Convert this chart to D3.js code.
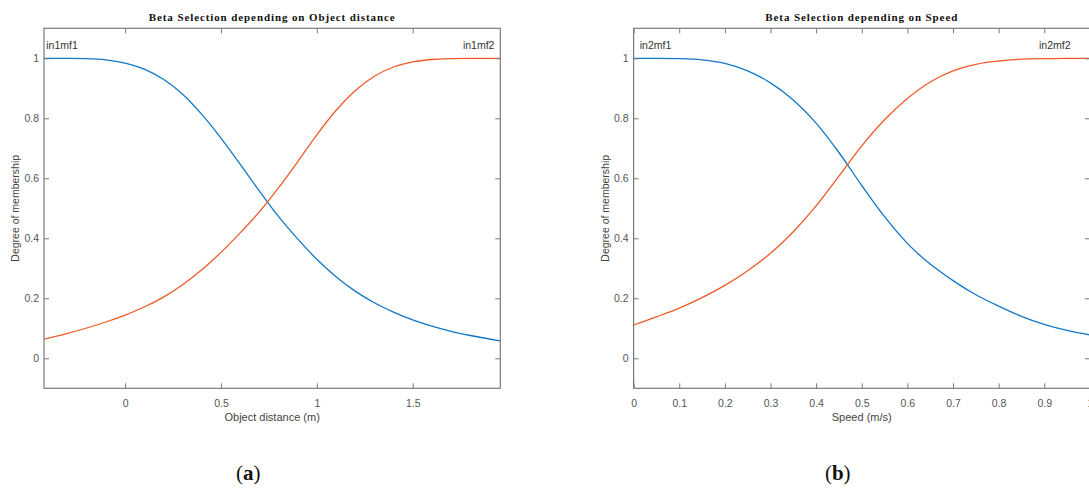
<!DOCTYPE html>
<html>
<head>
<meta charset="utf-8">
<script src="https://cdn.jsdelivr.net/npm/d3@7"></script>
<style>
  body { margin: 0; background: #fff; }
  svg { display: block; }
</style>
</head>
<body>
<svg id="fig" width="1089" height="488"></svg>
<script>
// Membership functions for the object-distance input
const distX     = [-0.423, -0.3, -0.2, -0.1, 0, 0.1, 0.2, 0.3, 0.4, 0.5, 0.6, 0.7, 0.8, 0.9, 1.0, 1.1, 1.2, 1.3, 1.4, 1.5, 1.6, 1.7, 1.8, 1.957];
const distLowY  = [1.0, 1.0, 0.999, 0.995, 0.984, 0.964, 0.930, 0.880, 0.813, 0.734, 0.647, 0.558, 0.473, 0.398, 0.330, 0.272, 0.224, 0.185, 0.154, 0.128, 0.107, 0.090, 0.076, 0.058];
const distHighY = [0.064, 0.083, 0.101, 0.121, 0.144, 0.171, 0.204, 0.245, 0.295, 0.353, 0.418, 0.488, 0.568, 0.655, 0.745, 0.826, 0.892, 0.940, 0.971, 0.988, 0.996, 0.999, 1.0, 1.0];

// Membership functions for the speed input
const speedX     = [0, 0.05, 0.1, 0.15, 0.2, 0.25, 0.3, 0.35, 0.4, 0.45, 0.5, 0.55, 0.6, 0.65, 0.7, 0.75, 0.8, 0.85, 0.9, 0.95, 1.0];
const speedLowY  = [1.0, 1.0, 0.999, 0.995, 0.983, 0.958, 0.918, 0.861, 0.784, 0.686, 0.576, 0.472, 0.383, 0.314, 0.259, 0.212, 0.174, 0.140, 0.113, 0.093, 0.078];
const speedHighY = [0.111, 0.138, 0.167, 0.202, 0.243, 0.292, 0.350, 0.422, 0.508, 0.607, 0.708, 0.795, 0.866, 0.921, 0.958, 0.980, 0.991, 0.997, 0.999, 1.0, 1.0];

// Axis ticks
const yTicks = [0, 0.2, 0.4, 0.6, 0.8, 1];
const distTicks = [0, 0.5, 1, 1.5];
const speedTicks = [0, 0.1, 0.2, 0.3, 0.4, 0.5, 0.6, 0.7, 0.8, 0.9, 1];

// Text
const titles = ["Beta Selection depending on Object distance", "Beta Selection depending on Speed"];
const xLabels = ["Object distance (m)", "Speed (m/s)"];
const yLabel = "Degree of membership";
const mfNames = [["in1mf1", "in1mf2"], ["in2mf1", "in2mf2"]];
const mfNameX = [[-0.329, 1.844], [0.048, 0.923]];
const panelTags = ["a", "b"];

const BLUE = "#1278c6";
const ORANGE = "#f05a28";
const AXIS = "#7a7a7a";
const TICKTXT = "#555";

const svg = d3.select("#fig");

function drawPanel(i, left, xDomain, xTicks, xs, series) {
  const top = 28.3, bottom = 388.3, width = 456.3;
  const x = d3.scaleLinear().domain(xDomain).range([left, left + width]);
  const y = d3.scaleLinear().domain([-0.1, 1.1]).range([bottom, top]);
  const g = svg.append("g");

  const clipId = "clip" + i;
  g.append("clipPath").attr("id", clipId)
    .append("rect").attr("x", left).attr("y", top)
    .attr("width", width).attr("height", bottom - top);

  const line = d3.line().x(d => x(d[0])).y(d => y(d[1])).curve(d3.curveMonotoneX);
  series.forEach(s => {
    const pts = xs.map((v, k) => [v, s.ys[k]]);
    g.append("path").datum(pts)
      .attr("clip-path", `url(#${clipId})`)
      .attr("fill", "none").attr("stroke", s.color)
      .attr("stroke-width", 1.3).attr("d", line);
  });

  const fmt = d => d3.format("~g")(d);
  const styleAxis = sel => {
    sel.select(".domain").remove();
    sel.selectAll(".tick line").attr("stroke", AXIS).attr("stroke-width", 1);
    sel.selectAll(".tick text").attr("fill", TICKTXT)
      .style("font-family", "'Liberation Sans', Arial, sans-serif").style("font-size", "10.5px");
  };

  g.append("g").attr("transform", `translate(0,${bottom})`)
    .call(d3.axisBottom(x).tickValues(xTicks).tickSize(-5).tickPadding(11).tickFormat(fmt))
    .call(styleAxis);
  g.append("g").attr("transform", `translate(0,${top})`)
    .call(d3.axisTop(x).tickValues(xTicks).tickSize(-5).tickFormat(""))
    .call(styleAxis);
  g.append("g").attr("transform", `translate(${left},0)`)
    .call(d3.axisLeft(y).tickValues(yTicks).tickSize(-5).tickPadding(5).tickFormat(fmt))
    .call(styleAxis);
  g.append("g").attr("transform", `translate(${left + width},0)`)
    .call(d3.axisRight(y).tickValues(yTicks).tickSize(-5).tickFormat(""))
    .call(styleAxis);

  g.append("rect").attr("x", left).attr("y", top)
    .attr("width", width).attr("height", bottom - top)
    .attr("fill", "none").attr("stroke", AXIS).attr("stroke-width", 1.2);

  const cx = left + width / 2;
  g.append("text").attr("x", cx).attr("y", 21).attr("text-anchor", "middle")
    .style("font-family", "'Liberation Serif', 'DejaVu Serif', serif")
    .style("font-weight", "bold").style("font-size", "11px")
    .style("letter-spacing", "0.9px").attr("fill", "#111")
    .text(titles[i]);

  g.append("text").attr("x", cx).attr("y", 421).attr("text-anchor", "middle")
    .style("font-family", "'Liberation Sans', Arial, sans-serif").style("font-size", "11px")
    .attr("fill", "#444").text(xLabels[i]);

  g.append("text").attr("transform", `translate(${left - 25},${(top + bottom) / 2}) rotate(-90)`)
    .attr("text-anchor", "middle")
    .style("font-family", "'Liberation Sans', Arial, sans-serif").style("font-size", "10.5px")
    .attr("fill", "#444").text(yLabel);

  mfNames[i].forEach((n, k) => {
    g.append("text").attr("x", x(mfNameX[i][k])).attr("y", y(1.046) + 4)
      .attr("text-anchor", "middle")
      .style("font-family", "'Liberation Sans', Arial, sans-serif").style("font-size", "10.5px")
      .attr("fill", "#333").text(n);
  });

  const tag = g.append("text").attr("x", cx - 24).attr("y", 480).attr("text-anchor", "middle")
    .style("font-family", "'Liberation Serif', 'DejaVu Serif', serif").style("font-size", "21px")
    .attr("fill", "#111");
  tag.append("tspan").text("(");
  tag.append("tspan").style("font-weight", "bold").text(panelTags[i]);
  tag.append("tspan").text(")");
}

drawPanel(0, 44, [-0.423, 1.957], distTicks, distX, [
  { ys: distLowY, color: BLUE },
  { ys: distHighY, color: ORANGE }
]);
drawPanel(1, 633.6, [0, 1], speedTicks, speedX, [
  { ys: speedLowY, color: BLUE },
  { ys: speedHighY, color: ORANGE }
]);
</script>
</body>
</html>
